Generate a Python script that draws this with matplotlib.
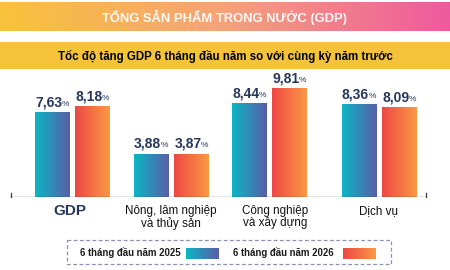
import numpy as np
import matplotlib.pyplot as plt
from matplotlib.colors import LinearSegmentedColormap
from matplotlib.patches import Rectangle

# Data
categories = ["GDP", "Nông, lâm nghiệp\nvà thủy sản", "Công nghiệp\nvà xây dựng", "Dịch vụ"]
series_names = ["6 tháng đầu năm 2025", "6 tháng đầu năm 2026"]
values_2025 = [7.63, 3.88, 8.44, 8.36]
values_2026 = [8.18, 3.87, 9.81, 8.09]
title = "TỔNG SẢN PHẨM TRONG NƯỚC (GDP)"
subtitle = "Tốc độ tăng GDP 6 tháng đầu năm so với cùng kỳ năm trước"

# Styles
NAVY = "#27375c"
cmap_2025 = LinearSegmentedColormap.from_list("c25", ["#0bb6c4", "#5a5ea8"])
cmap_2026 = LinearSegmentedColormap.from_list("c26", ["#ee4744", "#f99a45"])
cmap_head = LinearSegmentedColormap.from_list("hd", ["#f9c23a", "#f5a27a", "#ee5a9e"])
grad = np.linspace(0, 1, 256).reshape(1, -1)

plt.rcParams["font.family"] = ["Liberation Sans", "DejaVu Sans"]

fig = plt.figure(figsize=(4.5, 2.7), dpi=100)

# decoration layer in pixel coordinates
deco = fig.add_axes([0, 0, 1, 1])
deco.axis("off")
deco.imshow(grad, extent=(0, 450, 31, 2), cmap=cmap_head, aspect="auto")
deco.add_patch(Rectangle((0, 42), 450, 27, color="#f4c33a", lw=0))
deco.text(225, 17, title, color="white", fontsize=9.4, fontweight="bold",
          ha="center", va="center", alpha=0.95)
deco.text(225, 56, subtitle, color="black", fontsize=8.3, fontweight="bold",
          ha="center", va="center")

# legend
deco.add_patch(Rectangle((67, 240), 324, 24, fill=False, ec="#8a90b8",
                         lw=0.9, ls=(0, (3, 2))))
deco.text(80, 253, series_names[0], fontsize=6.9, fontweight="bold",
          ha="left", va="center", color="#1a1a1a")
deco.text(233, 253, series_names[1], fontsize=6.9, fontweight="bold",
          ha="left", va="center", color="#1a1a1a")
deco.imshow(grad, extent=(186, 219, 259, 248), cmap=cmap_2025, aspect="auto")
deco.imshow(grad, extent=(343, 376, 259, 248), cmap=cmap_2026, aspect="auto")
deco.plot([11, 11], [193, 197], color="#3a3a3a", lw=0.9)
deco.plot([426, 426], [193, 197], color="#3a3a3a", lw=0.9)
deco.set_xlim(0, 450)
deco.set_ylim(270, 0)

# bar chart
ax = fig.add_axes([10 / 450, 73 / 270, 416 / 450, 127 / 270])
ax.patch.set_alpha(0)
group_x = np.array([0, 1, 1.99, 3.1])
width = 0.345
offset = 0.205

for vals, cmap, sign in [(values_2025, cmap_2025, -1), (values_2026, cmap_2026, 1)]:
    bars = ax.bar(group_x + sign * offset, vals, width, color="none", lw=0)
    for b, v in zip(bars, vals):
        x0, w, h = b.get_x(), b.get_width(), b.get_height()
        ax.imshow(grad, extent=(x0, x0 + w, 0, h), cmap=cmap, aspect="auto", zorder=2)
        t = ax.annotate(f"{v:.2f}".replace(".", ","), xy=(x0 + w / 2, h),
                        xytext=(-2.2, 2.5), textcoords="offset points",
                        ha="center", va="bottom", fontsize=10, fontweight="bold",
                        color=NAVY)
        ax.annotate("%", xy=(1, 0.1), xycoords=t, xytext=(-0.6, 0),
                    textcoords="offset points", ha="left", va="bottom",
                    fontsize=6, color=NAVY)

ax.axhline(0, color="#3a3a3a", lw=0.9)

for i, (x, name) in enumerate(zip(group_x, categories)):
    if i == 0:
        ax.text(x - 0.02, -1.25, name, fontsize=11, fontweight="bold", color=NAVY,
                ha="center", va="center")
    else:
        ax.text(x + (0.06 if i == 2 else 0), -0.75, name, fontsize=8.4, color="#111111",
                ha="center", va="top", linespacing=1.0)

ax.set_xlim(-0.626, 3.576)
ax.set_ylim(0, 11.5)
ax.axis("off")

fig.savefig("out.png", dpi=100)
